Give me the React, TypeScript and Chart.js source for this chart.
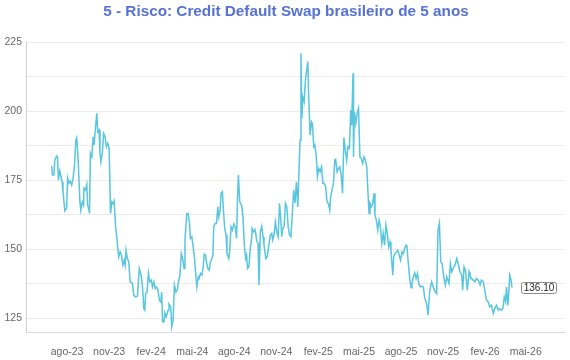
import React, { useEffect, useRef } from "react";
import { Chart, registerables } from "chart.js";

Chart.register(...registerables);

const TITLE = "5 - Risco: Credit Default Swap brasileiro de 5 anos";
const START_DATE = "2023-08-01"; // day 0 of DAY_OFFSETS
const X_MIN_DATE = "2023-05-03";
const X_MAX_DATE = "2026-07-26";
const Y_MIN = 120;
const Y_MAX = 225;
const Y_TICKS = [125, 137.5, 150, 162.5, 175, 187.5, 200, 212.5, 225];
const TICK_DATES = [
  "2023-08-01", "2023-11-01", "2024-02-01", "2024-05-01", "2024-08-01", "2024-11-01",
  "2025-02-01", "2025-05-01", "2025-08-01", "2025-11-01", "2026-02-01", "2026-05-01",
];
const TICK_LABELS = [
  "ago-23", "nov-23", "fev-24", "mai-24", "ago-24", "nov-24",
  "fev-25", "mai-25", "ago-25", "nov-25", "fev-26", "mai-26",
];

// days since START_DATE
const DAY_OFFSETS = [
  -34, -32, -29, -27, -23, -21, -19, -16, -14, -11, -9, -5, -1, 1, 4, 7, 10, 13, 16, 19,
  21, 24, 28, 30, 33, 36, 37, 40, 43, 45, 48, 49, 51, 54, 57, 59, 62, 65, 67, 70,
  72, 74, 77, 80, 83, 86, 89, 92, 95, 98, 101, 103, 106, 111, 113, 116, 119, 122, 125, 127,
  129, 132, 135, 138, 143, 146, 150, 154, 158, 162, 165, 168, 170, 172, 175, 178, 181, 184, 187, 190,
  193, 196, 199, 202, 205, 207, 209, 212, 214, 217, 221, 223, 227, 229, 232, 235, 238, 241, 244, 247,
  250, 253, 256, 258, 262, 265, 268, 270, 273, 276, 279, 282, 284, 287, 289, 292, 295, 298, 300, 303,
  305, 308, 311, 314, 319, 321, 324, 327, 330, 332, 335, 337, 340, 342, 345, 348, 350, 354, 356, 359,
  362, 365, 368, 371, 373, 375, 378, 382, 385, 388, 391, 393, 395, 398, 401, 404, 405, 408, 411, 413,
  415, 418, 420, 423, 426, 429, 431, 435, 438, 442, 445, 448, 450, 453, 456, 459, 462, 465, 467, 470,
  472, 475, 478, 481, 484, 487, 490, 493, 496, 499, 502, 505, 507, 510, 512, 514, 516, 519, 522, 524,
  527, 529, 532, 535, 537, 540, 542, 545, 548, 551, 554, 557, 560, 563, 566, 569, 572, 575, 577, 580,
  583, 586, 588, 591, 594, 597, 600, 603, 606, 609, 612, 615, 618, 621, 623, 626, 627, 629, 632, 635,
  638, 641, 644, 647, 650, 653, 656, 658, 661, 663, 666, 669, 672, 674, 677, 680, 683, 686, 689, 692,
  695, 698, 701, 704, 707, 709, 713, 715, 718, 721, 724, 727, 730, 733, 736, 739, 742, 744, 748, 750,
  753, 755, 758, 761, 764, 767, 770, 774, 777, 780, 783, 785, 788, 790, 794, 798, 804, 809, 812, 815,
  818, 821, 825, 828, 831, 836, 839, 842, 845, 849, 853, 856, 860, 864, 866, 869, 872, 876, 880, 882,
  885, 889, 893, 896, 900, 904, 907, 911, 915, 918, 922, 925, 929, 933, 936, 940, 944, 947, 951, 954,
  957, 960, 962, 965, 967, 969, 972, 974,
];

const CDS_VALUES = [
  180.1, 176.8, 176.8, 182.2, 183.7, 183.4, 175, 178.3, 176.8, 174.4, 170.8, 163.8, 164.9, 175.8, 173.8, 174.6, 173.2, 175.6, 179.8, 189.5,
  190.3, 182.9, 167.1, 164.1, 167.1, 165.9, 172, 171.4, 173.4, 165.9, 164.1, 162.9, 184.7, 183.4, 190.7, 187.7, 193.7, 199.2, 192.5, 193.1,
  184.7, 181.6, 184.7, 191.9, 190.7, 187.1, 188.3, 186.5, 162.9, 167.1, 166.5, 167.4, 158.7, 150.3, 147.2, 149, 147.8, 144.2, 146, 144.2,
  149.6, 146.6, 145.4, 138.2, 137.6, 133.3, 132.7, 133, 143, 140.6, 136.5, 128.5, 127.9, 133.9, 134.5, 141.4, 138.2, 138.8, 136.3, 138.2,
  135.8, 136.3, 135.1, 131.5, 130.9, 134.5, 123.7, 123.7, 126.9, 125.5, 127.9, 130.1, 129.1, 121.9, 124.3, 137, 134.5, 135.1, 138.2, 140.6,
  148.4, 146.6, 143, 153.3, 162.9, 162.9, 159.3, 153.9, 154.5, 150.8, 146.6, 140, 136.3, 140, 139.4, 141.2, 140.6, 143.6, 148.2, 147.8,
  145.4, 143, 142.4, 145.4, 147.5, 158.1, 159.3, 159.3, 165.3, 161.7, 164.1, 170.2, 170.8, 164.7, 157.5, 155.1, 148.4, 146.6, 149.6, 158.1,
  156.9, 159.1, 158.1, 153.9, 168.4, 176.8, 167.1, 165.9, 161.7, 151.4, 146.6, 147.8, 143, 143.6, 150.3, 153.9, 157.5, 156.3, 157.1, 155.7,
  153, 152.1, 137, 156.3, 158.3, 154.5, 151.6, 146.6, 147.2, 151.8, 155.1, 155.7, 153.3, 155.1, 159.9, 156.3, 154.5, 166.6, 162.9, 154.5,
  157.5, 158.1, 166.6, 165.3, 158.1, 155.1, 154.5, 162.9, 171.4, 166.6, 174.4, 165.3, 175, 189.5, 220.9, 197.4, 205.2, 203.4, 211.8, 214.2,
  217.9, 204.6, 191.3, 196.1, 195.5, 187.1, 187.7, 184.7, 176.2, 179.2, 178, 179.8, 173.8, 173.8, 172.6, 167.1, 166.5, 164.1, 169, 171.4,
  173.8, 182.2, 182.5, 178, 179.2, 179.8, 176.8, 170.2, 190.5, 185.9, 182.2, 187.1, 186.5, 200.4, 194.9, 213.7, 183.4, 199.7, 195.5, 199.2,
  201, 183.4, 182.9, 181, 183.4, 182.2, 179.8, 172.6, 162.9, 166.6, 165.3, 166.6, 170.2, 162.3, 160.5, 156.9, 160.5, 158.1, 152.1, 155.7,
  151.4, 158.7, 155.7, 150.8, 152.6, 149.6, 140.6, 147.2, 148.4, 149, 149.6, 147.8, 146, 149, 148.4, 150.3, 151.4, 150.8, 143, 139.4,
  136, 137.6, 140, 141.4, 139.4, 141.2, 137.3, 136.3, 136.6, 136.3, 132.1, 131.5, 129.1, 126.1, 135.1, 138.2, 135.1, 133.9, 156.9, 159.3,
  145.4, 144.8, 139.4, 137, 140, 137.6, 144.8, 141.8, 143, 144.2, 146.6, 144.8, 141.8, 140.6, 135.1, 143.6, 142.4, 135.1, 141.8, 140.6,
  139.4, 138.8, 138.2, 139.4, 138.8, 137, 138.8, 138.2, 134.5, 131.5, 130.9, 129.1, 129.7, 126.7, 128.5, 129.7, 127.9, 128.5, 127.9, 128.5,
  132.7, 130.9, 136.3, 129.7, 134.5, 140.6, 138.8, 136.1,
];

const LAST_LABEL = "136.10";

const FONT_FAMILY = '"Liberation Sans", Arial, Helvetica, sans-serif';
const LINE_COLOR = "#58c6df";
const TITLE_COLOR = "#5672d4";

function dayOf(date: string): number {
  return Math.round((Date.parse(date) - Date.parse(START_DATE)) / 86400000);
}

const overlayPlugin = {
  id: "overlay",
  afterDraw(chart: any) {
    const ctx = chart.ctx;
    ctx.save();
    // title
    ctx.font = `bold 15.3px ${FONT_FAMILY}`;
    ctx.fillStyle = TITLE_COLOR;
    ctx.textAlign = "center";
    ctx.textBaseline = "alphabetic";
    ctx.fillText(TITLE, chart.width / 2 + 1, 16);

    // last-value label
    const meta = chart.getDatasetMeta(0);
    const last = meta.data[meta.data.length - 1];
    if (last) {
      ctx.font = `10px ${FONT_FAMILY}`;
      const w = ctx.measureText(LAST_LABEL).width;
      const bx = Math.round(last.x + 9) + 0.5;
      const by = Math.round(last.y - 5.5) + 0.5;
      const bw = Math.round(w + 4);
      const bh = 11;
      ctx.beginPath();
      if ((ctx as any).roundRect) (ctx as any).roundRect(bx, by, bw, bh, 2);
      else ctx.rect(bx, by, bw, bh);
      ctx.fillStyle = "#ffffff";
      ctx.fill();
      ctx.strokeStyle = "#8a8a8a";
      ctx.lineWidth = 1;
      ctx.stroke();
      ctx.fillStyle = "#222222";
      ctx.textAlign = "center";
      ctx.textBaseline = "middle";
      ctx.fillText(LAST_LABEL, bx + bw / 2, by + bh / 2 + 0.5);
    }
    ctx.restore();
  },
};

export default function App() {
  const canvasRef = useRef<HTMLCanvasElement | null>(null);

  useEffect(() => {
    const canvas = canvasRef.current;
    if (!canvas) return;
    const points = DAY_OFFSETS.map((d, i) => ({ x: d, y: CDS_VALUES[i] }));
    const tickDays = TICK_DATES.map(dayOf);

    const chart = new Chart(canvas, {
      type: "line",
      data: {
        datasets: [
          {
            data: points,
            borderColor: LINE_COLOR,
            borderWidth: 1.5,
            pointRadius: 0,
            tension: 0,
            fill: false,
          },
        ],
      },
      options: {
        animation: false,
        responsive: false,
        events: [],
        layout: { padding: { top: 42, right: 5, left: 0, bottom: 0 } },
        plugins: {
          legend: { display: false },
          tooltip: { enabled: false },
          title: { display: false },
        },
        scales: {
          x: {
            type: "linear",
            min: dayOf(X_MIN_DATE),
            max: dayOf(X_MAX_DATE),
            grid: { display: false },
            border: { display: true, color: "#dcdcdc" },
            afterBuildTicks: (scale: any) => {
              scale.ticks = tickDays.map((v) => ({ value: v }));
            },
            afterFit: (scale: any) => {
              scale.height = 28;
            },
            ticks: {
              autoSkip: false,
              maxRotation: 0,
              padding: 6,
              color: "#666666",
              font: { size: 10.5, family: FONT_FAMILY },
              callback: (_v: any, i: number) => TICK_LABELS[i],
            },
          },
          y: {
            min: Y_MIN,
            max: Y_MAX,
            grid: { color: "#ececec", drawTicks: false },
            border: { display: true, color: "#cfcfcf" },
            afterBuildTicks: (scale: any) => {
              scale.ticks = Y_TICKS.map((v) => ({ value: v }));
            },
            afterFit: (scale: any) => {
              scale.width = 26;
            },
            ticks: {
              padding: 4,
              color: "#666666",
              font: { size: 10.5, family: FONT_FAMILY },
              callback: (v: any) => (Number(v) % 25 === 0 ? String(v) : ""),
            },
          },
        },
      },
      plugins: [overlayPlugin],
    } as any);

    return () => chart.destroy();
  }, []);

  return (
    <div style={{ position: "absolute", left: 0, top: 0, width: 570, height: 360, background: "#ffffff" }}>
      <canvas ref={canvasRef} width={570} height={360} style={{ display: "block" }} />
    </div>
  );
}
